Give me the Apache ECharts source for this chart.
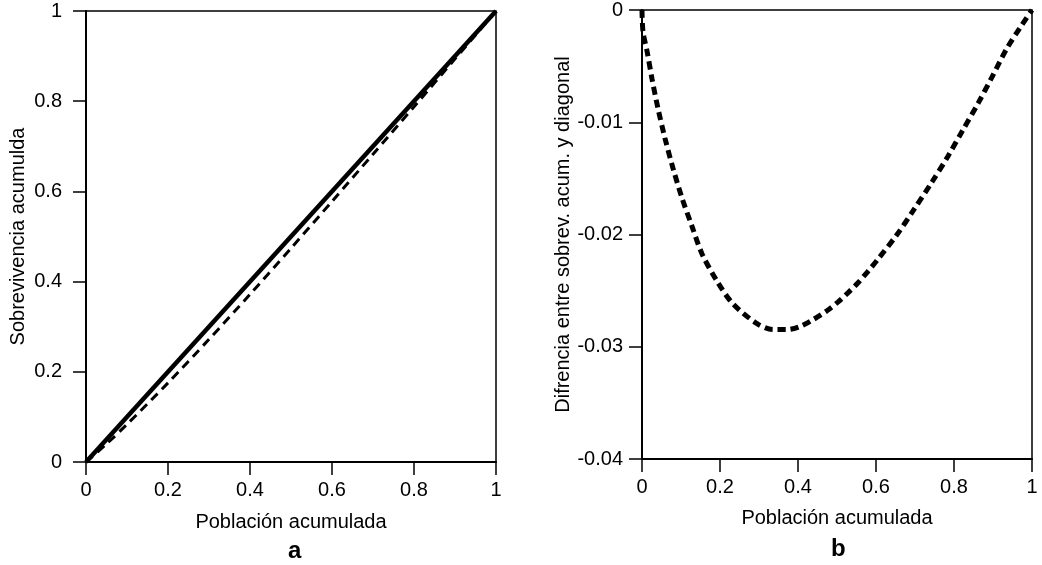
<!DOCTYPE html>
<html>
<head>
    <meta charset="UTF-8">
    <title>Sobrevivencia acumulada</title>
    <script src="https://cdn.jsdelivr.net/npm/echarts@6/dist/echarts.min.js"></script>
    <style>
        html, body { margin: 0; padding: 0; background: #fff; }
    </style>
</head>
<body>
    <div id="main" style="width: 1042px; height: 565px;"></div>

    <script>
        // Panel a: cumulative survival vs cumulative population
        var popA = [0, 0.05, 0.1, 0.2, 0.3, 0.4, 0.5, 0.6, 0.7, 0.8, 0.9, 1];
        var survivalA = [0, 0.040, 0.0835, 0.1755, 0.272, 0.3717, 0.474, 0.5778, 0.6826, 0.7876, 0.8938, 1];
        var diagonalX = [0, 1];
        var diagonalY = [0, 1];

        // Panel b: difference between cumulative survival and diagonal
        var popB = [0, 0.0026, 0.0128, 0.0256, 0.041, 0.059, 0.0795, 0.1026, 0.128, 0.154, 0.192, 0.233,
            0.295, 0.336, 0.372, 0.405, 0.438, 0.474, 0.503, 0.528, 0.554, 0.579, 0.605, 0.654, 0.695,
            0.744, 0.785, 0.821, 0.862, 0.897, 0.936, 0.969, 1];
        var diffB = [0, -0.00195, -0.00364, -0.00612, -0.00878, -0.01144, -0.0141, -0.01676, -0.01925,
            -0.02173, -0.02413, -0.02617, -0.02794, -0.02847, -0.02847, -0.0282, -0.0276, -0.0268,
            -0.0260, -0.0252, -0.0243, -0.0233, -0.0222, -0.0200, -0.0179, -0.0153, -0.0130,
            -0.0108, -0.0083, -0.0060, -0.0034, -0.0016, 0];

        function pairs(xs, ys) {
            return xs.map(function (x, i) { return [x, ys[i]]; });
        }

        var font = 'Liberation Sans, Arial, sans-serif';
        var black = '#000';
        var fs = 20;

        function valueAxis(opts, margin) {
            return Object.assign({
                type: 'value',
                nameLocation: 'middle',
                nameTextStyle: { color: black, fontSize: fs, fontFamily: font },
                axisLine: { show: true, onZero: false, lineStyle: { color: black, width: 2 } },
                axisTick: { show: true, inside: false, length: 13, lineStyle: { color: black, width: 1.5 } },
                axisLabel: { color: black, fontSize: fs, fontFamily: font, margin: margin },
                splitLine: { show: false }
            }, opts);
        }

        var chart = echarts.init(document.getElementById('main'));

        var option = {
            animation: false,
            backgroundColor: '#fff',
            title: [
                { text: 'a', left: 283, top: 534, textStyle: { color: black, fontSize: 24, fontWeight: 'bold', fontFamily: font } },
                { text: 'b', left: 826, top: 532, textStyle: { color: black, fontSize: 24, fontWeight: 'bold', fontFamily: font } }
            ],
            grid: [
                { left: 86, right: 546, top: 11, bottom: 103, show: true, borderColor: black, borderWidth: 1.5 },
                { left: 642, right: 10, top: 8, bottom: 106, show: true, borderColor: black, borderWidth: 1.5 }
            ],
            xAxis: [
                valueAxis({ gridIndex: 0, min: 0, max: 1, interval: 0.2, name: 'Población acumulada', nameGap: 50 }, 18),
                valueAxis({ gridIndex: 1, min: 0, max: 1, interval: 0.2, name: 'Población acumulada', nameGap: 49 }, 18)
            ],
            yAxis: [
                valueAxis({ gridIndex: 0, min: 0, max: 1, interval: 0.2, name: 'Sobrevivencia acumulda', nameGap: 58 }, 24),
                valueAxis({ gridIndex: 1, min: -0.04, max: 0, interval: 0.01, name: 'Difrencia entre sobrev. acum. y diagonal', nameGap: 59 }, 19)
            ],
            series: [
                {
                    type: 'line', xAxisIndex: 0, yAxisIndex: 0,
                    data: pairs(diagonalX, diagonalY),
                    showSymbol: false,
                    lineStyle: { color: black, width: 4.5 }
                },
                {
                    type: 'line', xAxisIndex: 0, yAxisIndex: 0,
                    data: pairs(popA, survivalA),
                    showSymbol: false, smooth: 0.3,
                    lineStyle: { color: black, width: 3, type: [9, 6] }
                },
                {
                    type: 'line', xAxisIndex: 1, yAxisIndex: 1,
                    data: pairs(popB, diffB),
                    showSymbol: false, smooth: 0.3,
                    lineStyle: { color: black, width: 5, type: [8, 5] }
                }
            ]
        };

        chart.setOption(option);
    </script>
</body>
</html>
